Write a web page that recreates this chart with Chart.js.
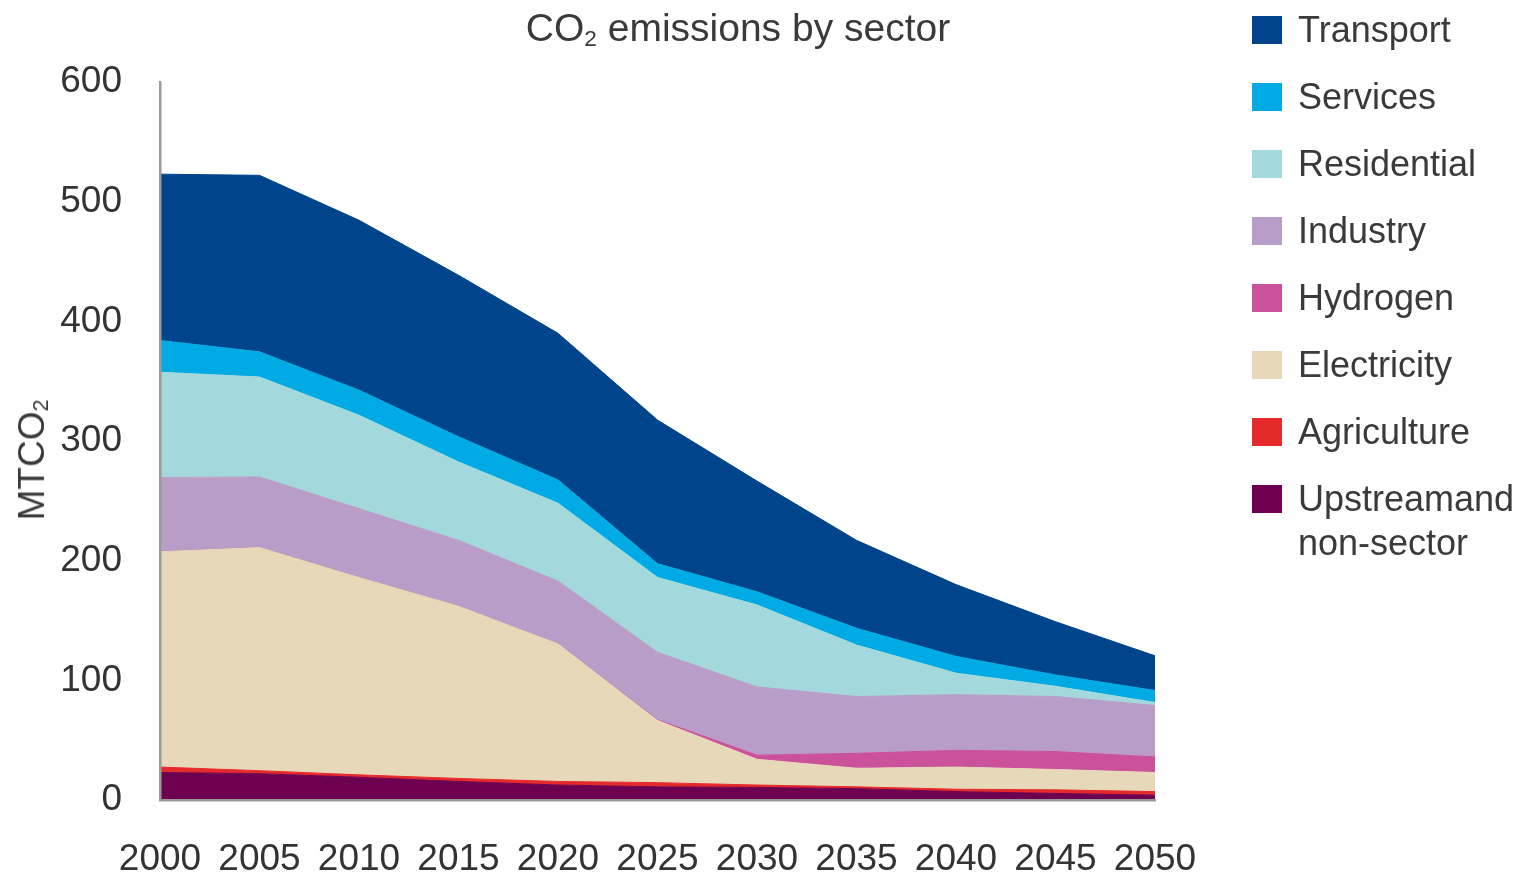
<!DOCTYPE html>
<html>
<head>
<meta charset="utf-8">
<title>CO2 emissions by sector</title>
<script src="https://cdn.jsdelivr.net/npm/chart.js@4.4.1/dist/chart.umd.min.js"></script>
<style>
    html, body { margin: 0; padding: 0; background: #fff; }
    body {
        width: 1521px; height: 876px; position: relative; overflow: hidden;
        font-family: "Liberation Sans", Arial, sans-serif; color: #3a3a3a;
    }
    #wrap { position: absolute; left: 0; top: 0; width: 1521px; height: 876px; }
    #title {
        position: absolute; left: 738px; top: 7px; transform: translateX(-50%);
        font-size: 39px; line-height: 42px; white-space: nowrap;
    }
    #yTitle {
        position: absolute; left: 32px; top: 460px;
        transform: translate(-50%, -50%) rotate(-90deg);
        font-size: 37px; line-height: 40px; white-space: nowrap;
    }
    sub { font-size: 58%; vertical-align: -0.2em; line-height: 0; }
    #legend { position: absolute; left: 1252px; top: 8px; }
    .item { display: flex; height: 67px; }
    .box { width: 30px; height: 28px; margin-top: 8px; flex: none; }
    .lbl { margin-left: 16px; font-size: 36px; line-height: 44px; white-space: pre-line; }
</style>
</head>
<body>
<div id="wrap"><canvas id="sectorChart"></canvas></div>
<div id="title">CO<sub>2</sub> emissions by sector</div>
<div id="yTitle">MTCO<sub>2</sub></div>
<div id="legend"></div>
<script>
// --- Datos (MtCO2) ---
const years = ['2000', '2005', '2010', '2015', '2020', '2025', '2030', '2035', '2040', '2045', '2050'];

const upstream    = [23, 22, 19, 15.5, 12.5, 11, 10.5, 9.5, 7, 5.5, 4];
const agriculture = [4.5, 2.5, 2, 2.5, 3, 3.5, 2, 1.5, 2, 3, 3];
const electricity = [180, 186.5, 165, 144, 115, 52, 21.5, 15.5, 18.5, 17, 16];
const hydrogen    = [0, 0, 0, 0, 0, 0.5, 3.5, 12.5, 14, 15, 13];
const industry    = [62, 59, 57.5, 55, 52.5, 56.5, 57, 47.5, 46.5, 46, 43];
const residential = [88, 83.5, 78, 65.5, 65, 62.5, 68.5, 43, 18, 8.5, 2.5];
const services    = [26.5, 21, 21, 21, 19.5, 11.5, 11, 14, 14, 9.5, 10];
const transport   = [139, 147.5, 142, 135, 122.5, 120, 92.5, 73.5, 60, 44.5, 29];

const yTicks = [0, 100, 200, 300, 400, 500, 600];

// orden de apilado: de abajo hacia arriba
const sectorNames = ['Upstreamand\nnon-sector', 'Agriculture', 'Electricity', 'Hydrogen',
                     'Industry', 'Residential', 'Services', 'Transport'];
const sectorData = [upstream, agriculture, electricity, hydrogen,
                    industry, residential, services, transport];
const sectorColours = ['#6e0050', '#e52a2c', '#e6d8b8', '#cb519b',
                       '#b89dc9', '#a3d9dc', '#00aae4', '#00458b'];

document.addEventListener('DOMContentLoaded', () => {

    const tickFont = { family: '"Liberation Sans", Arial, sans-serif', size: 37 };

    const datasets = sectorNames.map((name, i) => ({
        label: name,
        data: sectorData[i],
        backgroundColor: sectorColours[i],
        borderColor: sectorColours[i],
        borderWidth: 1,
        fill: i === 0 ? 'origin' : '-1',
        pointRadius: 0,
        tension: 0
    }));

    new Chart(document.getElementById('sectorChart'), {
        type: 'line',
        data: { labels: years, datasets: datasets },
        options: {
            responsive: true,
            maintainAspectRatio: false,
            animation: false,
            layout: { padding: { left: 0, right: 366, top: 82, bottom: 0 } },
            scales: {
                x: {
                    grid: { display: false, drawTicks: false },
                    // z: 1 -> el eje se dibuja por encima de las áreas
                    border: { display: true, color: '#9a9a9a', width: 2.5, z: 1 },
                    ticks: { color: '#333', font: tickFont, padding: 38, maxRotation: 0, autoSkip: false },
                    afterFit: (scale) => { scale.height = 76; }
                },
                y: {
                    stacked: true,
                    min: yTicks[0],
                    max: yTicks[yTicks.length - 1],
                    grid: { display: false, drawTicks: false },
                    border: { display: true, color: '#9a9a9a', width: 2.5, z: 1 },
                    ticks: { stepSize: 100, color: '#333', font: tickFont, padding: 38 },
                    afterFit: (scale) => { scale.width = 160; }
                }
            },
            plugins: {
                legend: { display: false },
                title: { display: false },
                tooltip: { enabled: false }
            }
        }
    });

    // leyenda: Transport arriba, Upstream abajo
    const legend = document.getElementById('legend');
    datasets.slice().reverse().forEach(ds => {
        const item = document.createElement('div');
        item.className = 'item';
        const box = document.createElement('div');
        box.className = 'box';
        box.style.background = ds.backgroundColor;
        const lbl = document.createElement('div');
        lbl.className = 'lbl';
        lbl.textContent = ds.label;
        item.appendChild(box);
        item.appendChild(lbl);
        legend.appendChild(item);
    });
});
</script>
</body>
</html>
